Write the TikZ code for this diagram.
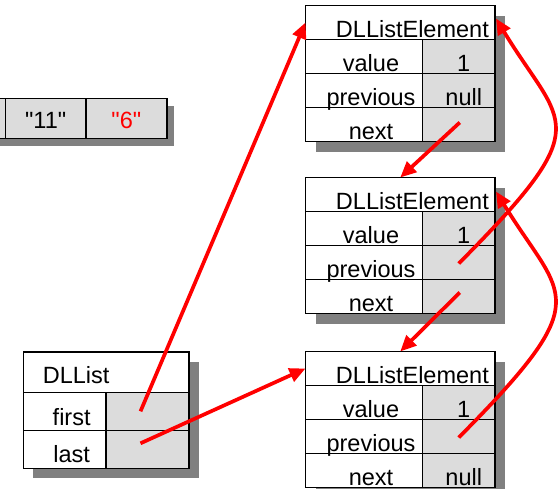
\documentclass[tikz,border=0pt]{standalone}
\usepackage{fontspec}
\setmainfont{Liberation Sans}[Ligatures=TeXOff]
\usetikzlibrary{calc,arrows.meta}
\definecolor{cellgray}{RGB}{220,220,220}
\definecolor{shadowgray}{RGB}{128,128,128}
\definecolor{ptrred}{RGB}{255,0,0}
\tikzset{
  box/.style={draw=black, line width=1.6pt, inner sep=0pt, outer sep=0pt, anchor=north west},
  wbox/.style={box, fill=white},
  gbox/.style={box, fill=cellgray},
  txt/.style={inner sep=0pt, font=\fontsize{23.5}{28}\selectfont},
  shadowbox/.style={fill=shadowgray},
  ptr/.style={draw=ptrred, line width=3.7pt, -{Triangle[length=16pt,width=14pt]}},
}
\newcommand\dlelem[5]{%
  \fill[shadowbox] (#2+10,#3+10) rectangle (#2+199.5,#3+146);
  \node[wbox, minimum width=189.5pt, minimum height=34pt] (#1h) at (#2,#3) {};
  \node[wbox, minimum width=117pt, minimum height=34pt] (#1vl) at (#2,#3+34) {};
  \node[gbox, minimum width=72.5pt, minimum height=34pt] (#1vv) at (#2+117,#3+34) {};
  \node[wbox, minimum width=117pt, minimum height=34pt] (#1pl) at (#2,#3+68) {};
  \node[gbox, minimum width=72.5pt, minimum height=34pt] (#1pv) at (#2+117,#3+68) {};
  \node[wbox, minimum width=117pt, minimum height=34pt] (#1nl) at (#2,#3+102) {};
  \node[gbox, minimum width=72.5pt, minimum height=34pt] (#1nv) at (#2+117,#3+102) {};
  \node[txt, anchor=base east] at ([xshift=-6pt,yshift=2pt]#1h.south east) {DLListElement};
  \node[txt, anchor=base] at ([xshift=7pt,yshift=2.5pt]#1vl.south) {value};
  \node[txt, anchor=base] at ([xshift=5pt,yshift=2.5pt]#1vv.south) {#4};
  \node[txt, anchor=base] at ([xshift=7pt,yshift=2.5pt]#1pl.south) {previous};
  \node[txt, anchor=base] at ([xshift=5pt,yshift=2.5pt]#1pv.south) {#5};
  \node[txt, anchor=base] at ([xshift=7pt,yshift=2.5pt]#1nl.south) {next};
}
\begin{document}
\begin{tikzpicture}[x=1pt,y=-1pt]
\clip (0,0) rectangle (559,488);
\fill[white] (0,0) rectangle (559,488);

% array fragment
\fill[shadowbox] (-70,106) rectangle (174,145.5);
\node[gbox, minimum width=80.7pt, minimum height=40pt] (a0) at (-75.4,98.3) {};
\node[gbox, minimum width=80.7pt, minimum height=40pt] (a1) at (5.3,98.3) {};
\node[gbox, minimum width=80.7pt, minimum height=40pt] (a2) at (86,98.3) {};
\node[txt, anchor=base] at ([yshift=10pt]a1.south) {"11"};
\node[txt, anchor=base, text=ptrred] at ([yshift=10pt]a2.south) {"6"};

% DLList
\fill[shadowbox] (33,361.7) rectangle (198.7,478.3);
\node[wbox, minimum width=165.7pt, minimum height=40.6pt] (lh) at (23.3,351.7) {};
\node[wbox, minimum width=82.7pt, minimum height=38pt] (lfl) at (23.3,392.3) {};
\node[gbox, minimum width=83pt, minimum height=38pt] (lfv) at (106,392.3) {};
\node[wbox, minimum width=82.7pt, minimum height=38pt] (lll) at (23.3,430.3) {};
\node[gbox, minimum width=83pt, minimum height=38pt] (llv) at (106,430.3) {};
\node[txt, anchor=base west] at ([xshift=19.4pt,yshift=9pt]lh.south west) {DLList};
\node[txt, anchor=base] at ([xshift=7pt,yshift=5pt]lfl.south) {first};
\node[txt, anchor=base] at ([xshift=7pt,yshift=5.6pt]lll.south) {last};

% elements
\dlelem{ea}{305.5}{5.5}{1}{null}
\dlelem{eb}{305.5}{177.5}{1}{}
\dlelem{ec}{305.5}{351.5}{1}{}
\node[txt, anchor=base] at ([xshift=5pt,yshift=2.5pt]ecnv.south) {null};

% pointers
\draw[ptr] ([xshift=-7pt]lfv.center) -- (eah.west);
\draw[ptr] ([xshift=-7pt,yshift=6pt]llv.center) -- (ech.west);
\draw[ptr] ([xshift=1pt,yshift=2pt]eanv.center) -- (ebh.north);
\draw[ptr] ([xshift=1pt,yshift=4pt]ebnv.center) -- (ech.north);
\draw[ptr] ([yshift=-1pt]ebpv.center) .. controls ($(ebpv.center)+(141,-141)$) and ($(eah.east)+(67,105)$) .. ([xshift=1pt,yshift=4pt]eah.east);
\draw[ptr] ([yshift=-1pt]ecpv.center) .. controls ($(ecpv.center)+(141,-141)$) and ($(ebh.east)+(67,105)$) .. ([xshift=1pt,yshift=3pt]ebh.east);
\end{tikzpicture}
\end{document}
